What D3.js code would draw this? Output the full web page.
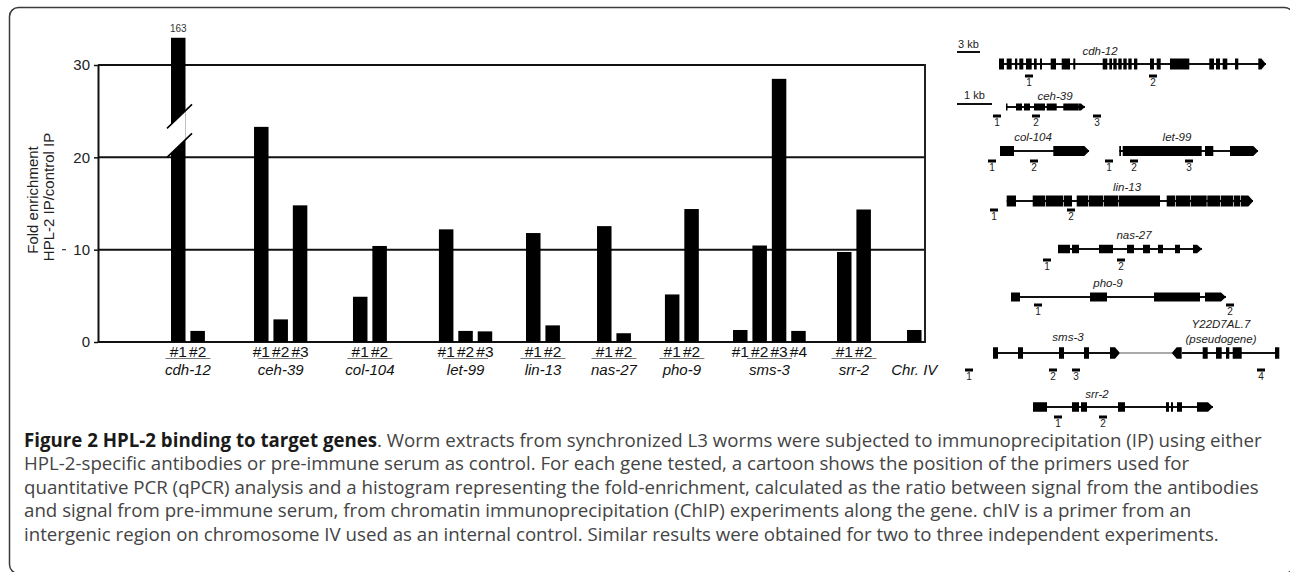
<!DOCTYPE html>
<html><head><meta charset="utf-8">
<script src="https://cdn.jsdelivr.net/npm/d3@7"></script>
<style>body{margin:0;background:#fff;} svg{display:block}</style>
</head><body>
<svg id="c" width="1290" height="572"></svg>
<script>
// ---------------- DATA ----------------
const genes = ["cdh-12","ceh-39","col-104","let-99","lin-13","nas-27","pho-9","sms-3","srr-2","Chr. IV"];
const primerNames = [["#1","#2"],["#1","#2","#3"],["#1","#2"],["#1","#2","#3"],["#1","#2"],["#1","#2"],["#1","#2"],["#1","#2","#3","#4"],["#1","#2"],[""]];
const foldEnrichment = [[163,1.2],[23.3,2.45,14.8],[4.9,10.4],[12.2,1.2,1.15],[11.8,1.8],[12.55,0.95],[5.15,14.4],[1.3,10.45,28.5,1.2],[9.75,14.35],[1.3]];
const yTicks = [0,10,20,30];
const yMax = 30;
const breakAt = 20;      // axis break drawn just above 20
const brokenTop = 32.95; // visual top of the broken bar

// gene cartoons (units along each cartoon, 1 unit ~ 1 px)
const geneModels = [
  {name:"cdh-12", line:[9,276], h:11, exons:[[9,14],[16.7,21.7],[25,27.3],[29.3,33.3],[36,41.7],[44,46.7],[50,52],[60.7,66],[71.7,80],[83.3,85.3],[112.7,117.3],[119.3,122],[123.3,126.7],[128.3,131.7],[133.3,136.7],[138.3,141.7],[144,147.3],[160,164],[166.7,170.7],[180,199.3],[219.3,224],[226,230],[232.7,237.3],[245,248.3]], arrows:[[268.3,276,1]], primers:[39,163]},
  {name:"ceh-39", line:[16,95], h:7, exons:[[16,17.5],[26,32],[34,40],[44,55],[56.7,66.7],[73.3,88.3]], arrows:[[88.3,95,1]], primers:[7,46,107]},
  {name:"col-104", line:[10,99], h:10, exons:[[10,24]], arrows:[[63.3,99.3,1]], primers:[2,44]},
  {name:"let-99", line:[129.3,268], h:10, exons:[[129.3,131],[132.7,211.7],[215,223.3]], arrows:[[240,268.3,1]], primers:[119,144,199]},
  {name:"lin-13", line:[16.7,263], h:11, exons:[[16.7,26],[42.7,55],[55.7,73],[73.7,82],[86.7,98],[98.7,113],[113.7,128],[128.7,170],[176.7,185],[185.7,200],[200.7,216.7],[217.3,230],[230.7,243],[243.7,250]], arrows:[[250.7,263.3,1]], primers:[4,81]},
  {name:"nas-27", line:[68,212], h:8.5, exons:[[68,80],[82,89],[109,123],[137,144],[153,160],[168,173],[185,190]], arrows:[[203,212,1]], primers:[57,131]},
  {name:"pho-9", line:[21,236], h:9, exons:[[21,30],[100,117],[164,210]], arrows:[[215,236,1]], primers:[48,240]},
  {name:"sms-3", line:[3,120], line2:[192,289], thin:[130,182], h:11.5, exons:[[3,8],[28,33],[69,74],[94,99],[212.7,217.7],[226,231.7],[236,239.3],[242.7,251.7],[285,289.3]], arrows:[[120,130,1],[181.7,191.7,-1]], primers:[-21,63,86,271]},
  {name:"srr-2", line:[43,223], h:9.5, exons:[[43,57],[82,89],[91,97],[128,135],[176,179],[181,183],[187,192]], arrows:[[207,223,1]], primers:[68,113]}
];

// ---------------- LAYOUT ----------------
const groupSlot = [0,4.28,9.38,13.81,18.3,21.96,25.46,28.97,34.33,37.94];
const geneRows  = [64,107,151,151,201,249,297,353,407];
const primerGap = [13,10,11,11,10,12,9,18,11];
const geneLabelPos = [[110,55],[65,100],[43,141],[187,141],[137,191],[144,239],[118,287],[78,341],[107,398]];

const captionLines = [
  [{t:"Figure 2 HPL-2 binding to target genes", b:true},{t:". Worm extracts from synchronized L3 worms were subjected to immunoprecipitation (IP) using either"}],
  [{t:"HPL-2-specific antibodies or pre-immune serum as control. For each gene tested, a cartoon shows the position of the primers used for"}],
  [{t:"quantitative PCR (qPCR) analysis and a histogram representing the fold-enrichment, calculated as the ratio between signal from the antibodies"}],
  [{t:"and signal from pre-immune serum, from chromatin immunoprecipitation (ChIP) experiments along the gene. chIV is a primer from an"}],
  [{t:"intergenic region on chromosome IV used as an internal control. Similar results were obtained for two to three independent experiments."}]
];

const FONT = "'Liberation Sans', Arial, Helvetica, sans-serif";
const svg = d3.select("#c");

// frame
svg.append("rect").attr("x",9.5).attr("y",7.5).attr("width",1284).attr("height",566).attr("rx",9)
  .attr("fill","none").attr("stroke","#3a3a3a").attr("stroke-width",1.5);

// ---------------- BAR CHART ----------------
const plotL = 98, plotR = 925;
const y = d3.scaleLinear().domain([0,yMax]).range([342,65]);
const x = d3.scaleLinear().domain([0,1]).range([171,190.4]);
const barW = 14.5;

const bars = [];
genes.forEach((g,gi)=>foldEnrichment[gi].forEach((v,vi)=>bars.push({g:gi, v, name:primerNames[gi][vi], slot:groupSlot[gi]+vi})));

// grid lines
svg.append("g").selectAll("line").data(yTicks).join("line")
  .attr("x1",plotL).attr("x2",plotR).attr("y1",d=>y(d)).attr("y2",d=>y(d))
  .attr("stroke","#111").attr("stroke-width",2);
svg.append("line").attr("x1",plotR).attr("x2",plotR).attr("y1",y(yMax)-1).attr("y2",y(0)+1)
  .attr("stroke","#222").attr("stroke-width",2);

// axis
const ax = svg.append("g").attr("transform",`translate(${plotL},0)`)
  .call(d3.axisLeft(y).tickValues(yTicks).tickSize(4).tickPadding(4).tickSizeOuter(0));
ax.select(".domain").attr("stroke","#111").attr("stroke-width",2);
ax.selectAll(".tick line").attr("stroke","#111").attr("stroke-width",1.5);
ax.selectAll(".tick text").attr("font-size",15).attr("font-family",FONT).attr("fill","#222");

// bars
const shown = d => d.v>yMax ? brokenTop : d.v;
svg.append("g").selectAll("rect").data(bars).join("rect")
  .attr("x",d=>x(d.slot)).attr("width",barW)
  .attr("y",d=>y(shown(d)))
  .attr("height",d=>y(0)-y(shown(d)))
  .attr("fill","#000");

// break on bars above the axis max
bars.filter(d=>d.v>yMax).forEach(d=>{
  const b0 = x(d.slot), b1 = b0+barW;
  const lx0 = b0-4, lx1 = b1+6.5, drop = 24, gap = 29;
  const yl = xx => y(breakAt) - drop*(xx-lx0)/(lx1-lx0);
  svg.append("polygon").attr("points",[[b0,yl(b0)],[b1,yl(b1)],[b1,yl(b1)-gap],[b0,yl(b0)-gap]].map(p=>p.join(",")).join(" "))
    .attr("fill","#fff");
  [0,gap].forEach(o=>svg.append("line").attr("x1",lx0).attr("y1",yl(lx0)-o).attr("x2",lx1).attr("y2",yl(lx1)-o)
    .attr("stroke","#000").attr("stroke-width",1.6));
  svg.append("text").attr("x",b0+barW/2).attr("y",y(brokenTop)-6).attr("text-anchor","middle")
    .attr("font-family",FONT).attr("font-size",10).attr("fill","#333").text(d.v);
});

// primer labels
svg.append("g").selectAll("text").data(bars).join("text")
  .attr("x",d=>x(d.slot)+barW/2).attr("y",356.5).attr("text-anchor","middle")
  .attr("font-family",FONT).attr("font-size",15.5).attr("fill","#111").text(d=>d.name);

// underlines + gene names
genes.forEach((g,gi)=>{
  const n = foldEnrichment[gi].length;
  const cx = (x(groupSlot[gi]) + x(groupSlot[gi]+n-1)+barW)/2;
  if(n>1){
    svg.append("line").attr("x1",cx-22.5).attr("x2",cx+22.5).attr("y1",358.5).attr("y2",358.5)
      .attr("stroke","#777").attr("stroke-width",1);
  }
  svg.append("text").attr("x",cx).attr("y",375).attr("text-anchor","middle")
    .attr("font-family",FONT).attr("font-size",15).attr("font-style","italic").attr("fill","#111").text(g);
});

// y label
const yl = svg.append("g").attr("font-family",FONT).attr("font-size",15).attr("fill","#222").attr("text-anchor","middle");
yl.append("text").attr("transform","translate(37.5,200) rotate(-90)").text("Fold enrichment");
yl.append("text").attr("transform","translate(54,197) rotate(-90)").text("HPL-2 IP/control IP");
svg.append("line").attr("x1",62).attr("x2",66).attr("y1",y(10)).attr("y2",y(10)).attr("stroke","#333").attr("stroke-width",1.2);

// ---------------- GENE CARTOONS ----------------
const gx = d3.scaleLinear().domain([0,300]).range([990,1290]);
const cart = svg.append("g");

// scale bars
[["3 kb",957,980,48,52],["1 kb",957,992,99,104]].forEach(([t,a,b,ty,ly])=>{
  cart.append("line").attr("x1",a).attr("x2",b).attr("y1",ly).attr("y2",ly).attr("stroke","#111").attr("stroke-width",2);
  cart.append("text").attr("x",(a+b)/2).attr("y",ty).attr("text-anchor","middle").attr("font-family",FONT)
    .attr("font-size",11).attr("fill","#222").text(t);
});

geneModels.forEach((m,i)=>{
  const cy = geneRows[i], h = m.h;
  const g = cart.append("g");
  [m.line, m.line2].filter(Boolean).forEach(l=>g.append("line").attr("x1",gx(l[0])).attr("x2",gx(l[1]))
    .attr("y1",cy).attr("y2",cy).attr("stroke","#111").attr("stroke-width",2));
  if(m.thin) g.append("line").attr("x1",gx(m.thin[0])).attr("x2",gx(m.thin[1])).attr("y1",cy).attr("y2",cy)
    .attr("stroke","#555").attr("stroke-width",1);
  g.selectAll("rect").data(m.exons).join("rect")
    .attr("x",d=>gx(d[0])).attr("width",d=>gx(d[1])-gx(d[0]))
    .attr("y",cy-h/2).attr("height",h).attr("fill","#000");
  m.arrows.forEach(([a,b,dir])=>{
    const tip = Math.min(5,(b-a)*0.6);
    let pts;
    if(dir>0) pts=[[gx(a),cy-h/2],[gx(b-tip),cy-h/2],[gx(b),cy],[gx(b-tip),cy+h/2],[gx(a),cy+h/2]];
    else pts=[[gx(a),cy],[gx(a+tip),cy-h/2],[gx(b),cy-h/2],[gx(b),cy+h/2],[gx(a+tip),cy+h/2]];
    g.append("polygon").attr("points",pts.map(p=>p.join(",")).join(" ")).attr("fill","#000");
  });
  const py = cy + primerGap[i];
  m.primers.forEach((p,pi)=>{
    g.append("rect").attr("x",gx(p)-4).attr("y",py-2.5).attr("width",8).attr("height",3).attr("fill","#000");
    g.append("text").attr("x",gx(p)).attr("y",py+8.5).attr("text-anchor","middle").attr("font-family",FONT)
      .attr("font-size",10).attr("fill","#222").text(pi+1);
  });
  const [lx,ly] = geneLabelPos[i];
  g.append("text").attr("x",gx(lx)).attr("y",ly).attr("text-anchor","middle").attr("font-family",FONT)
    .attr("font-size",11.5).attr("font-style","italic").attr("fill","#222").text(m.name);
});
// pseudogene label
cart.append("text").attr("x",gx(231)).attr("y",328).attr("text-anchor","middle").attr("font-family",FONT)
  .attr("font-size",11.5).attr("font-style","italic").attr("fill","#222").text("Y22D7AL.7");
cart.append("text").attr("x",gx(231)).attr("y",343).attr("text-anchor","middle").attr("font-family",FONT)
  .attr("font-size",11.5).attr("font-style","italic").attr("fill","#222").text("(pseudogene)");

// ---------------- CAPTION ----------------
const cap = svg.append("g").attr("font-family","'Open Sans', 'Noto Sans', sans-serif");
const capBase = [446.5,470,493.5,517,540.5];
let fs = 15;
const lines = captionLines.map((parts,li)=>{
  const t = cap.append("text").attr("x",24).attr("y",capBase[li]).attr("font-size",fs);
  parts.forEach(p=>t.append("tspan").attr("font-weight",p.b?"bold":"normal").attr("fill",p.b?"#1a1a1a":"#444").text(p.t));
  return t;
});
const w1 = lines[0].node().getComputedTextLength();
fs = fs*1238/w1;
lines.forEach(t=>t.attr("font-size",fs));
</script>
</body></html>
